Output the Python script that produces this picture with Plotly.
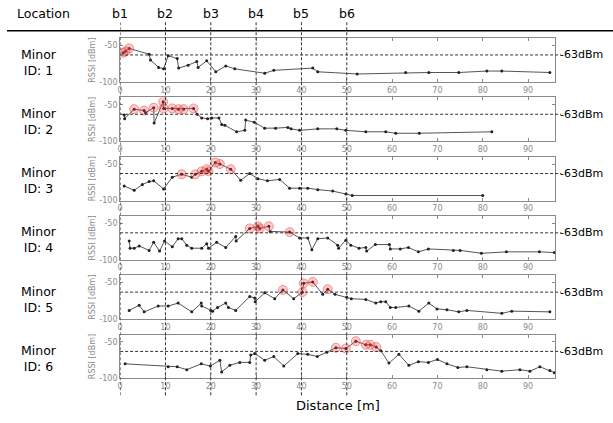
import plotly.graph_objects as go

W, H = 613, 423

locations = ["b1", "b2", "b3", "b4", "b5", "b6"]
location_dist = [0, 10, 20, 30, 40, 50]
minor_ids = [1, 2, 3, 4, 5, 6]
threshold = -63

x1 = [0.7, 1.2, 2.0, 6.4, 6.7, 8.5, 9.6, 10.6, 12.6, 12.9, 15.0, 16.9, 17.2, 19.1, 21.1, 23.3, 25.3, 31.9, 33.9, 42.5, 43.6, 52.3, 63.0, 68.1, 74.7, 80.9, 84.2, 94.8]
y1 = [-60, -58, -54, -62, -70, -80, -82, -64, -68, -81, -77, -72, -80, -71, -86, -78, -82, -88, -84, -81, -86, -89, -87, -87, -87, -85, -85, -87]
r1 = [0.7, 1.2, 2.0]

x2 = [0.9, 1.0, 3.1, 5.3, 5.6, 7.4, 7.5, 9.5, 9.6, 11.5, 12.9, 14.0, 16.2, 17.0, 18.0, 19.3, 20.2, 21.8, 22.4, 23.1, 25.7, 27.5, 27.7, 29.6, 31.9, 34.3, 37.0, 37.7, 39.6, 43.6, 47.8, 49.8, 54.2, 58.6, 60.8, 66.0, 82.0]
y2 = [-64, -69, -56, -58, -61, -54, -75, -46, -55, -55, -56, -56, -55, -63, -68, -69, -68, -68, -77, -78, -87, -85, -71, -74, -82, -82, -81, -83, -85, -83, -83, -85, -87, -87, -89, -89, -87]
r2 = [3.1, 5.3, 7.4, 9.5, 9.6, 11.5, 12.9, 14.0, 16.2]

x3 = [0.9, 3.1, 4.9, 6.4, 7.4, 9.6, 11.5, 13.6, 15.8, 16.6, 18.0, 19.1, 19.5, 21.0, 22.0, 24.4, 26.6, 28.6, 30.4, 32.5, 35.2, 37.4, 39.6, 41.4, 43.6, 46.9, 49.8, 51.2, 80.0]
y3 = [-80, -86, -78, -74, -73, -84, -68, -64, -68, -64, -60, -57, -60, -48, -50, -57, -72, -63, -70, -73, -71, -83, -83, -83, -85, -87, -91, -93, -93]
r3 = [13.6, 16.6, 18.0, 19.1, 19.5, 21.0, 22.0, 24.4]

x4 = [2.0, 2.2, 3.1, 4.2, 6.4, 7.4, 8.7, 9.8, 11.5, 12.8, 13.6, 14.7, 15.8, 18.0, 19.1, 19.5, 21.3, 23.3, 25.5, 25.6, 28.6, 30.4, 30.8, 32.8, 33.1, 37.4, 39.6, 41.4, 42.3, 43.6, 45.8, 48.0, 48.2, 49.8, 50.9, 52.7, 54.2, 54.4, 56.3, 59.4, 59.6, 61.8, 63.6, 65.8, 68.0, 73.5, 75.0, 79.7, 85.2, 92.5, 95.8]
y4 = [-74, -84, -84, -81, -87, -76, -88, -74, -82, -71, -71, -80, -84, -84, -78, -84, -76, -83, -68, -74, -57, -54, -57, -54, -61, -62, -70, -70, -86, -71, -70, -80, -84, -73, -80, -84, -83, -88, -79, -79, -85, -85, -83, -89, -85, -87, -87, -91, -89, -89, -90]
r4 = [28.6, 30.4, 30.8, 32.8, 37.4]

x5 = [2.0, 4.2, 5.3, 8.4, 10.6, 12.8, 15.8, 17.9, 18.0, 20.0, 20.4, 21.5, 23.3, 23.9, 25.5, 28.6, 29.7, 29.8, 31.9, 34.1, 35.9, 38.3, 40.2, 40.5, 42.5, 44.7, 45.8, 47.4, 50.0, 51.0, 54.2, 56.4, 57.5, 58.6, 59.6, 60.8, 63.7, 65.9, 68.1, 69.9, 72.1, 74.7, 76.5, 84.2, 86.4, 94.8]
y5 = [-88, -81, -90, -82, -82, -78, -90, -78, -82, -88, -89, -84, -78, -84, -88, -69, -71, -76, -64, -72, -60, -72, -63, -51, -49, -66, -59, -66, -70, -72, -73, -78, -76, -76, -84, -84, -82, -89, -78, -86, -87, -90, -88, -92, -89, -90]
r5 = [35.9, 40.2, 40.5, 42.5, 45.8]

x6 = [1.1, 10.6, 12.6, 14.7, 17.9, 19.9, 22.0, 22.4, 24.2, 26.4, 28.6, 28.8, 29.7, 31.9, 33.9, 36.1, 39.2, 41.4, 43.5, 45.6, 47.6, 49.8, 52.0, 54.2, 55.2, 56.5, 57.5, 59.3, 61.5, 63.7, 65.8, 68.0, 70.0, 72.1, 74.5, 76.5, 80.9, 84.2, 88.2, 90.4, 92.6, 94.8, 95.8]
y6 = [-80, -84, -84, -88, -80, -83, -75, -91, -82, -78, -78, -68, -66, -75, -70, -83, -66, -67, -70, -64, -58, -59, -49, -54, -54, -57, -62, -79, -67, -82, -77, -78, -74, -80, -85, -84, -88, -90, -88, -90, -84, -89, -92]
r6 = [47.6, 49.8, 52.0, 54.2, 55.2, 56.5]

xs = [x1, x2, x3, x4, x5, x6]
ys = [y1, y2, y3, y4, y5, y6]
rs = [r1, r2, r3, r4, r5, r6]

x_ticks = [0, 10, 20, 30, 40, 50, 60, 70, 80, 90]
y_ticks = [-50, -100]

FONT = "DejaVu Sans"
GRAY = "#8a8a8a"

def pxx(p):
    return p / W

def pxy(p):
    return 1 - p / H

X_L, X_R = 117.7, 555.0
TOP0, BOT0, STEP = 38.6, 83.0, 60.0

fig = go.Figure()
shapes = []
annotations = []
layout_axes = {}

for i in range(6):
    n = "" if i == 0 else str(i + 1)
    xa, ya = "x" + n, "y" + n
    top = TOP0 + STEP * i
    bot = BOT0 + STEP * i
    fig.add_trace(go.Scatter(
        x=xs[i], y=ys[i], xaxis=xa, yaxis=ya, mode="lines+markers",
        line=dict(color="#555555", width=1),
        marker=dict(size=3, color="#222222"), showlegend=False, hoverinfo="skip"))
    ry = [ys[i][xs[i].index(v)] for v in rs[i]]
    fig.add_trace(go.Scatter(
        x=rs[i], y=ry, xaxis=xa, yaxis=ya, mode="markers",
        marker=dict(size=9, color="rgba(255,60,60,0.28)",
                    line=dict(color="rgba(230,80,80,0.55)", width=1)),
        showlegend=False, hoverinfo="skip"))
    layout_axes["xaxis" + n] = dict(
        domain=[pxx(X_L), pxx(X_R)], anchor=ya, range=[0, 96],
        tickvals=x_ticks, ticktext=[str(v) for v in x_ticks],
        ticks="inside", ticklen=3, tickcolor=GRAY,
        showline=True, linecolor=GRAY, linewidth=1, mirror="ticks",
        showgrid=False, zeroline=False,
        tickfont=dict(family=FONT, size=8, color=GRAY))
    layout_axes["yaxis" + n] = dict(
        domain=[pxy(bot), pxy(top)], anchor=xa, range=[-100, -40],
        tickvals=y_ticks, ticktext=[str(v) for v in y_ticks],
        ticks="inside", ticklen=3, tickcolor=GRAY,
        showline=True, linecolor=GRAY, linewidth=1, mirror="ticks",
        showgrid=False, zeroline=False,
        tickfont=dict(family=FONT, size=8, color=GRAY),
        title=dict(text="RSSI [dBm]", font=dict(family=FONT, size=8, color=GRAY), standoff=2))
    shapes.append(dict(type="line", xref="paper", yref=ya,
                       x0=pxx(X_L), x1=pxx(561), y0=threshold, y1=threshold,
                       line=dict(color="#333333", width=1, dash="3px,2px")))
    annotations.append(dict(xref="paper", yref=ya, x=pxx(559), y=threshold,
                            text=f"-{abs(threshold)}dBm", showarrow=False,
                            xanchor="left", yanchor="middle", borderpad=0,
                            font=dict(family=FONT, size=11, color="black")))
    annotations.append(dict(xref="paper", yref="paper", x=pxx(36), y=pxy((top + bot) / 2 + 2),
                            text=f"Minor<br>ID: {minor_ids[i]}", showarrow=False,
                            xanchor="center", yanchor="middle", align="center",
                            font=dict(family=FONT, size=12.5, color="black")))

for loc, d in zip(locations, location_dist):
    shapes.append(dict(type="line", xref="x", yref="paper", x0=d, x1=d,
                       y0=pxy(400), y1=pxy(22),
                       line=dict(color="#333333", width=1, dash="3px,2px")))
    annotations.append(dict(xref="x", yref="paper", x=d, y=pxy(14), text=loc,
                            showarrow=False, xanchor="center", yanchor="middle",
                            font=dict(family=FONT, size=12.5, color="black")))

shapes.append(dict(type="line", xref="paper", yref="paper", x0=pxx(4), x1=1,
                   y0=pxy(31), y1=pxy(31), line=dict(color="black", width=1.5)))
annotations.append(dict(xref="paper", yref="paper", x=pxx(41), y=pxy(14), text="Location",
                        showarrow=False, xanchor="center", yanchor="middle",
                        font=dict(family=FONT, size=12.5, color="black")))
annotations.append(dict(xref="paper", yref="paper", x=pxx((X_L + X_R) / 2), y=pxy(410),
                        text="Distance [m]", showarrow=False, xanchor="center", yanchor="middle",
                        font=dict(family=FONT, size=13, color="black")))

fig.update_layout(
    width=W, height=H, margin=dict(l=0, r=0, t=0, b=0),
    paper_bgcolor="white", plot_bgcolor="white",
    shapes=shapes, annotations=annotations, **layout_axes)

fig.write_html("out.html", config={"displayModeBar": False},
               post_script="document.body.style.margin='0px';")
